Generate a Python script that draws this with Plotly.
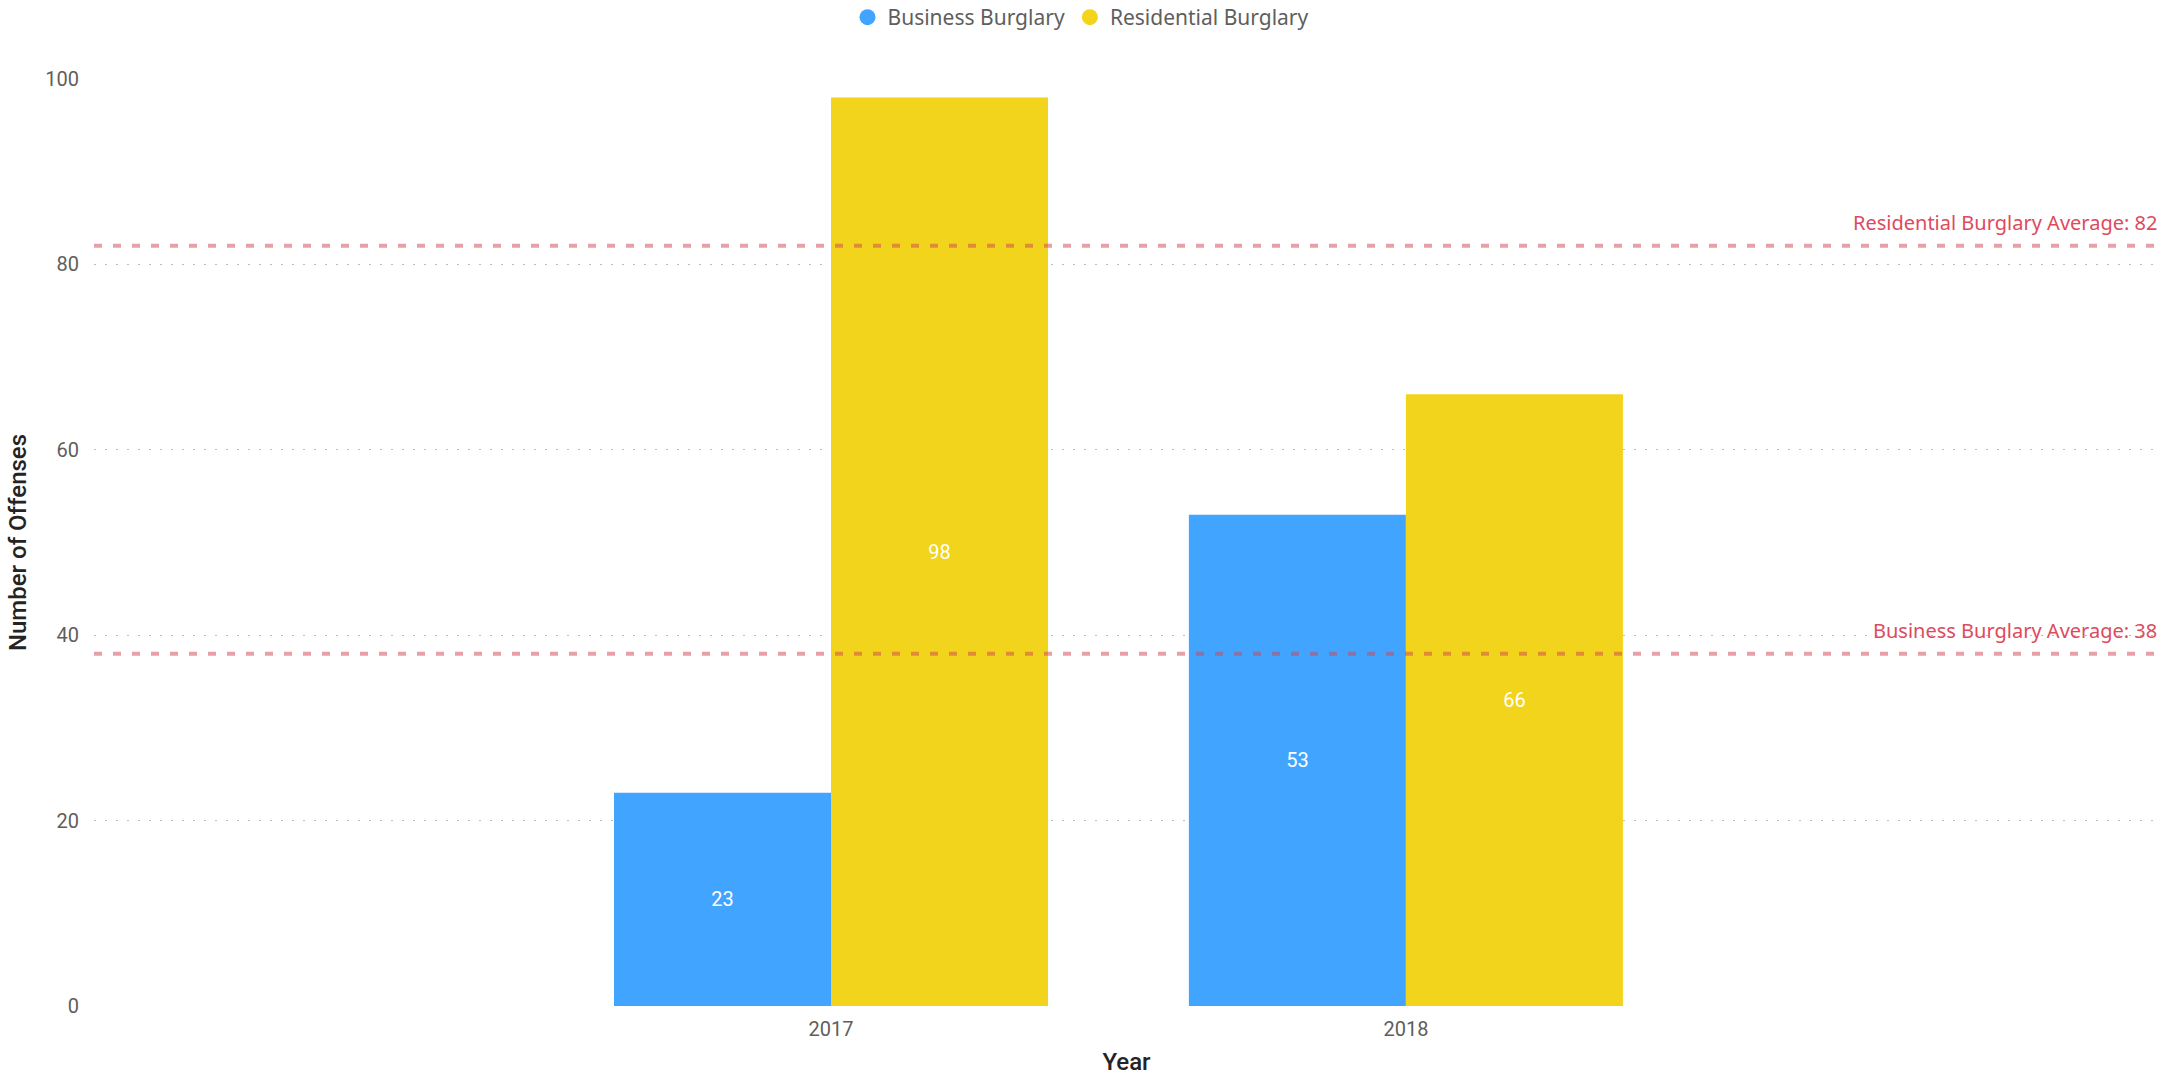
import plotly.graph_objects as go

years = ["2017", "2018"]
business = [23, 53]
residential = [98, 66]
series_names = ["Business Burglary", "Residential Burglary"]
series_colors = ["#41A4FF", "#F2D41C"]
avg_labels = ["Residential Burglary Average", "Business Burglary Average"]
avg_values = [82, 38]
y_ticks = [0, 20, 40, 60, 80, 100]

W, H = 2170, 1077
ML, MR, MT, MB = 94, 11, 79, 71
plot_w = W - ML - MR
plot_h = H - MT - MB

fig = go.Figure()
for name, vals, col in zip(series_names, [business, residential], series_colors):
    fig.add_trace(go.Bar(
        x=years, y=vals, name=name, marker=dict(color=col, line=dict(width=0)),
        texttemplate="%{y}", textposition="inside", insidetextanchor="middle",
        textangle=0, constraintext="none",
        textfont=dict(family="Roboto", size=20, color="white"),
        showlegend=False, hoverinfo="x+y+name",
    ))
# legend entries with circle markers
for name, col in zip(series_names, series_colors):
    fig.add_trace(go.Scatter(
        x=[None], y=[None], mode="markers", name=name,
        marker=dict(symbol="circle", size=16, color=col), showlegend=True,
    ))

shapes = []
annotations = []
for lab, v in zip(avg_labels, avg_values):
    shapes.append(dict(type="line", xref="paper", x0=0, x1=1, yref="y", y0=v, y1=v,
                       line=dict(color="rgba(209,65,81,0.5)", width=4, dash="8px,11px"),
                       layer="above"))
    annotations.append(dict(xref="paper", x=1, xanchor="right", yref="y", y=v,
                            yanchor="bottom", yshift=8, showarrow=False,
                            text=f"{lab}: {v}",
                            font=dict(family="Noto Sans", size=20, color="#DE4A5E")))

fig.update_layout(
    width=W, height=H,
    margin=dict(l=ML, r=MR, t=MT, b=MB, autoexpand=False),
    paper_bgcolor="white", plot_bgcolor="white",
    barmode="group", bargap=0.245, bargroupgap=0,
    shapes=shapes, annotations=annotations,
    legend=dict(orientation="h", x=(1081 - ML) / plot_w, xanchor="center",
                y=1 + (MT + 3) / plot_h, yanchor="top",
                font=dict(family="Noto Sans", size=21, color="#605E5C"),
                itemsizing="trace", tracegroupgap=0),
    xaxis=dict(type="category", range=[-1.282, 2.31], showgrid=False, zeroline=False,
               showline=False, ticks="", ticklabelstandoff=9,
               tickfont=dict(family="Roboto", size=20, color="#605E5C"),
               title=dict(text="Year", standoff=13,
                          font=dict(family="Roboto", size=24, color="#252423", weight=500))),
    yaxis=dict(range=[0, 100], tickvals=y_ticks, showgrid=True,
               gridcolor="#BDBBB9", griddash="2px,9px", gridwidth=1, zeroline=False,
               showline=False, ticks="", ticklabelstandoff=14,
               tickfont=dict(family="Roboto", size=20, color="#605E5C"),
               title=dict(text="Number of Offenses", standoff=11,
                          font=dict(family="Roboto", size=24, color="#252423", weight=500))),
)

fig.write_html("out.html", config={"displayModeBar": False},
               post_script="document.body.style.margin='0';document.body.style.overflow='hidden';")
